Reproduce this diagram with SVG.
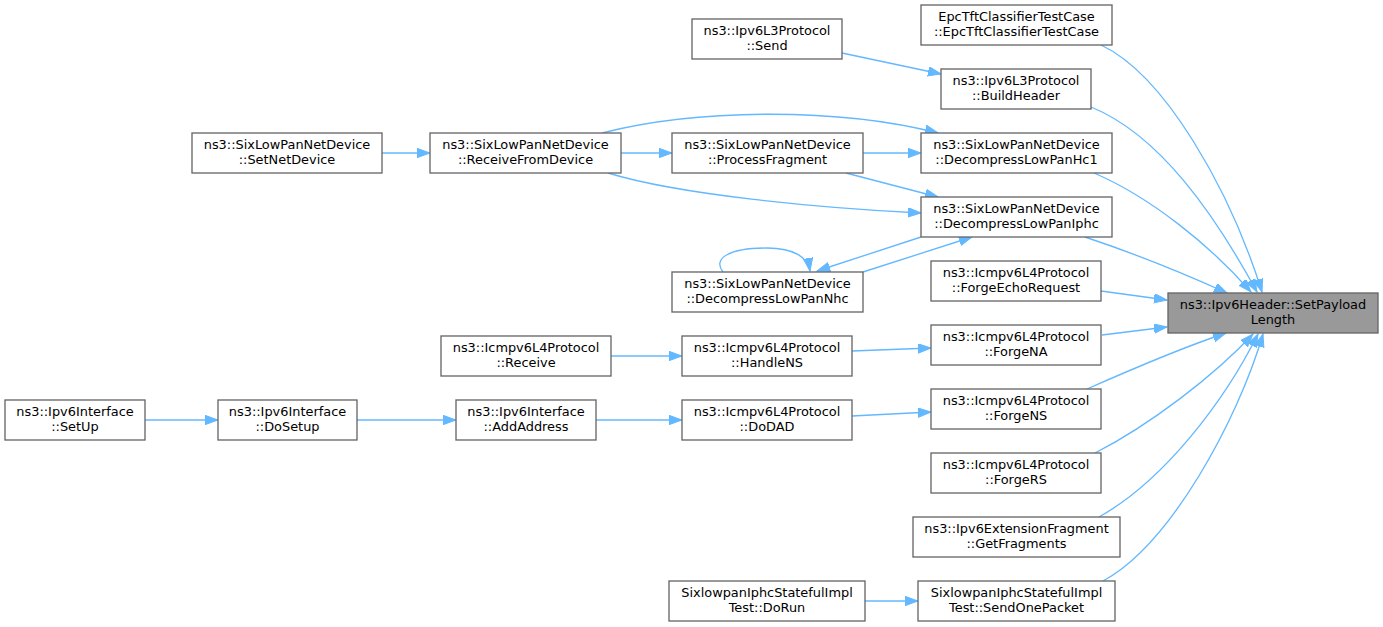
<svg xmlns="http://www.w3.org/2000/svg" width="1383" height="627" viewBox="0 0 1383 627">
<style>
.n rect{fill:#ffffff;stroke:#666666;stroke-width:1.33}
.n.t rect{fill:#999999}
.n text{font-family:"DejaVu Sans",sans-serif;font-size:12.9px;fill:#000000;text-anchor:middle}
.e path{fill:none;stroke:#63b8ff;stroke-width:1.33}
</style>
<defs>
<marker id="a" markerUnits="userSpaceOnUse" markerWidth="15" markerHeight="11" refX="13" refY="4.7" orient="auto" viewBox="0 0 15 11">
<path d="M0,0 L13,4.7 L0,9.4 z" fill="#63b8ff" stroke="#63b8ff" stroke-width="1"/>
</marker>
</defs>
<rect width="1383" height="627" fill="#ffffff"/>
<g id="connectors" class="e">
<path marker-end="url(#a)" d="M1101,45 C1165,75 1230,190 1262,292"/>
<path marker-end="url(#a)" d="M1091,107 C1160,135 1215,215 1257,292"/>
<path marker-end="url(#a)" d="M1094,173 C1150,197 1210,245 1251,292"/>
<path marker-end="url(#a)" d="M1085,237 C1130,252 1185,274 1227,293"/>
<path marker-end="url(#a)" d="M1101,291 L1167,300"/>
<path marker-end="url(#a)" d="M1102,335 L1167,327"/>
<path marker-end="url(#a)" d="M1087,389 C1130,370 1190,345 1226,333"/>
<path marker-end="url(#a)" d="M1095,453 C1150,425 1215,375 1253,334"/>
<path marker-end="url(#a)" d="M1099,517 C1165,480 1225,400 1258,334"/>
<path marker-end="url(#a)" d="M1103,581 C1170,545 1238,420 1263,334"/>
<path marker-end="url(#a)" d="M842,53 L941,74"/>
<path marker-end="url(#a)" d="M602,133 C700,108 840,108 938,133"/>
<path marker-end="url(#a)" d="M863,153 L921,153"/>
<path marker-end="url(#a)" d="M608,173 C680,195 820,208 921,213"/>
<path marker-end="url(#a)" d="M846,173 L938,197"/>
<path marker-end="url(#a)" d="M921,237 L817,271"/>
<path marker-end="url(#a)" d="M863,272 L972,237"/>
<path marker-end="url(#a)" d="M723,272 C712,258 730,248 767,248 C795,248 808,258 810,271"/>
<path marker-end="url(#a)" d="M382,153 L430,153"/>
<path marker-end="url(#a)" d="M621,153 L672,153"/>
<path marker-end="url(#a)" d="M611,356 L682,356"/>
<path marker-end="url(#a)" d="M852,351 L931,348"/>
<path marker-end="url(#a)" d="M852,416 L931,412"/>
<path marker-end="url(#a)" d="M145,420 L218,420"/>
<path marker-end="url(#a)" d="M357,420 L456,420"/>
<path marker-end="url(#a)" d="M596,420 L682,420"/>
<path marker-end="url(#a)" d="M865,601 L918,601"/>
</g>
<g id="SetPayloadLength" class="n t"><rect x="1168" y="293" width="210" height="40"/><text x="1273" y="309">ns3::Ipv6Header::SetPayload</text><text x="1273" y="324">Length</text></g>
<g id="EpcTftClassifierTestCase" class="n"><rect x="921" y="5" width="191" height="40"/><text x="1016.5" y="21">EpcTftClassifierTestCase</text><text x="1016.5" y="36">::EpcTftClassifierTestCase</text></g>
<g id="BuildHeader" class="n"><rect x="941" y="69" width="150" height="40"/><text x="1016" y="85">ns3::Ipv6L3Protocol</text><text x="1016" y="100">::BuildHeader</text></g>
<g id="Send" class="n"><rect x="692" y="19" width="150" height="40"/><text x="767" y="35">ns3::Ipv6L3Protocol</text><text x="767" y="50">::Send</text></g>
<g id="DecompressLowPanHc1" class="n"><rect x="921" y="133" width="191" height="40"/><text x="1016.5" y="149">ns3::SixLowPanNetDevice</text><text x="1016.5" y="164">::DecompressLowPanHc1</text></g>
<g id="DecompressLowPanIphc" class="n"><rect x="921" y="197" width="191" height="40"/><text x="1016.5" y="213">ns3::SixLowPanNetDevice</text><text x="1016.5" y="228">::DecompressLowPanIphc</text></g>
<g id="ReceiveFromDevice" class="n"><rect x="430" y="133" width="191" height="40"/><text x="525.5" y="149">ns3::SixLowPanNetDevice</text><text x="525.5" y="164">::ReceiveFromDevice</text></g>
<g id="ProcessFragment" class="n"><rect x="672" y="133" width="191" height="40"/><text x="767.5" y="149">ns3::SixLowPanNetDevice</text><text x="767.5" y="164">::ProcessFragment</text></g>
<g id="SetNetDevice" class="n"><rect x="192" y="133" width="190" height="40"/><text x="287" y="149">ns3::SixLowPanNetDevice</text><text x="287" y="164">::SetNetDevice</text></g>
<g id="DecompressLowPanNhc" class="n"><rect x="672" y="272" width="191" height="40"/><text x="767.5" y="288">ns3::SixLowPanNetDevice</text><text x="767.5" y="303">::DecompressLowPanNhc</text></g>
<g id="ForgeEchoRequest" class="n"><rect x="931" y="261" width="170" height="40"/><text x="1016" y="277">ns3::Icmpv6L4Protocol</text><text x="1016" y="292">::ForgeEchoRequest</text></g>
<g id="ForgeNA" class="n"><rect x="931" y="325" width="170" height="40"/><text x="1016" y="341">ns3::Icmpv6L4Protocol</text><text x="1016" y="356">::ForgeNA</text></g>
<g id="ForgeNS" class="n"><rect x="931" y="389" width="170" height="40"/><text x="1016" y="405">ns3::Icmpv6L4Protocol</text><text x="1016" y="420">::ForgeNS</text></g>
<g id="ForgeRS" class="n"><rect x="931" y="453" width="170" height="40"/><text x="1016" y="469">ns3::Icmpv6L4Protocol</text><text x="1016" y="484">::ForgeRS</text></g>
<g id="GetFragments" class="n"><rect x="913" y="517" width="207" height="40"/><text x="1016.5" y="533">ns3::Ipv6ExtensionFragment</text><text x="1016.5" y="548">::GetFragments</text></g>
<g id="SendOnePacket" class="n"><rect x="918" y="581" width="197" height="40"/><text x="1016.5" y="597">SixlowpanIphcStatefulImpl</text><text x="1016.5" y="612">Test::SendOnePacket</text></g>
<g id="DoRun" class="n"><rect x="669" y="581" width="196" height="40"/><text x="767" y="597">SixlowpanIphcStatefulImpl</text><text x="767" y="612">Test::DoRun</text></g>
<g id="Receive" class="n"><rect x="441" y="336" width="170" height="40"/><text x="526" y="352">ns3::Icmpv6L4Protocol</text><text x="526" y="367">::Receive</text></g>
<g id="HandleNS" class="n"><rect x="682" y="336" width="170" height="40"/><text x="767" y="352">ns3::Icmpv6L4Protocol</text><text x="767" y="367">::HandleNS</text></g>
<g id="DoDAD" class="n"><rect x="682" y="400" width="170" height="40"/><text x="767" y="416">ns3::Icmpv6L4Protocol</text><text x="767" y="431">::DoDAD</text></g>
<g id="SetUp" class="n"><rect x="5" y="400" width="140" height="40"/><text x="75" y="416">ns3::Ipv6Interface</text><text x="75" y="431">::SetUp</text></g>
<g id="DoSetup" class="n"><rect x="218" y="400" width="139" height="40"/><text x="287.5" y="416">ns3::Ipv6Interface</text><text x="287.5" y="431">::DoSetup</text></g>
<g id="AddAddress" class="n"><rect x="456" y="400" width="140" height="40"/><text x="526" y="416">ns3::Ipv6Interface</text><text x="526" y="431">::AddAddress</text></g>
</svg>
